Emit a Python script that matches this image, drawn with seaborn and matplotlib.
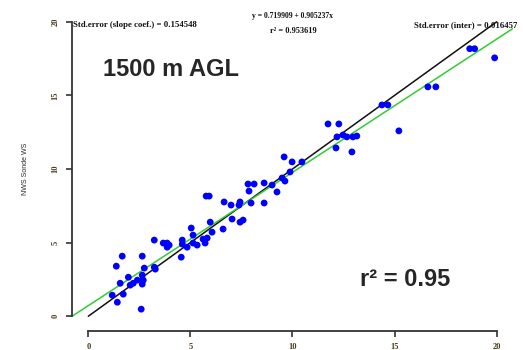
import numpy as np
import pandas as pd
import matplotlib
matplotlib.use("Agg")
import matplotlib.pyplot as plt
import seaborn as sns

obs_ws = [1.17, 1.42, 1.71, 2.59, 1.37, 1.66, 2.64, 1.56, 1.96, 2.64,
          2.40, 2.69, 2.20, 2.05, 2.64, 2.74, 3.23, 3.28, 3.23, 3.67,
          3.86, 3.96, 3.86, 4.60, 4.60, 4.84, 4.55, 5.13, 5.33, 5.72,
          5.13, 5.62, 5.82, 5.04, 6.06, 6.60, 5.97, 7.04, 7.43, 7.58,
          5.77, 5.92, 6.65, 6.99, 7.43, 7.38, 7.97, 8.61, 7.82, 8.12,
          8.61, 9.00, 7.87, 9.24, 9.49, 9.63, 9.88, 9.59, 9.98, 10.46,
          11.74, 12.27, 12.47, 12.18, 12.66, 12.96, 13.15, 12.13, 12.91, 14.38,
          14.67, 15.21, 16.63, 17.02, 18.68, 18.92, 19.90]
sonde_ws = [1.43, 0.95, 1.50, 0.48, 3.40, 4.08, 4.08, 2.24, 2.65, 2.79,
            2.45, 2.45, 2.24, 2.11, 2.18, 3.27, 3.33, 3.20, 5.17, 4.97,
            4.97, 4.83, 4.69, 5.17, 4.90, 4.69, 4.01, 4.97, 4.83, 4.97,
            5.51, 5.24, 5.31, 5.99, 5.71, 5.92, 6.39, 6.60, 6.39, 6.53,
            8.16, 8.16, 7.76, 7.55, 7.76, 7.55, 7.69, 7.69, 8.98, 8.98,
            9.05, 8.91, 8.50, 8.44, 9.39, 9.18, 9.80, 10.82, 10.48, 10.48,
            13.06, 13.06, 12.31, 12.18, 12.18, 12.18, 12.24, 11.43, 11.16, 14.35,
            14.35, 12.59, 15.58, 15.58, 18.17, 18.17, 17.55]

intercept = 0.719909
slope = 0.905237
ticks = [0, 5, 10, 15, 20]

df = pd.DataFrame({"obs": obs_ws, "sonde": sonde_ws})

sns.set_style("ticks")
fig = plt.figure(figsize=(5.23, 3.5), dpi=100)
ax = fig.add_axes([72 / 523, 22 / 350, 441 / 523, 318 / 350])

sns.scatterplot(data=df, x="obs", y="sonde", ax=ax, color="#0000ff",
                s=24, edgecolor="none", zorder=3)

# 1:1 line and fitted line
ax.plot([0, 20], [0, 20], color="#111111", lw=1.1, zorder=2)
xx = np.array([-0.8, 20.8])
ax.plot(xx, intercept + slope * xx, color="#33cc33", lw=1.1, zorder=2)

ax.set_xlim(-0.8, 20.8)
ax.set_ylim(-0.8, 20.8)

# R-style axes: only left/bottom, spanning first to last tick
sns.despine(ax=ax)
ax.spines["bottom"].set_position(("outward", 2))
for sp in ["left", "bottom"]:
    ax.spines[sp].set_bounds(0, 20)
    ax.spines[sp].set_linewidth(1.3)
    ax.spines[sp].set_color("#333333")

ax.set_xticks(ticks)
ax.set_yticks(ticks)
tick_col = "#4a3c1c"
ax.set_xticklabels([str(t) for t in ticks], fontfamily="Liberation Serif",
                   fontweight="bold", fontsize=6, color=tick_col)
ax.set_yticklabels([str(t) for t in ticks], fontfamily="Liberation Serif",
                   fontweight="bold", fontsize=6, color=tick_col,
                   rotation=90, va="center")
ax.tick_params(axis="both", length=4, width=1.2, color="#333333", pad=5)

ax.set_xlabel("")
ax.set_ylabel("NWS Sonde WS", fontfamily="Liberation Sans", fontsize=5,
              labelpad=16)

serif = dict(fontfamily="Liberation Serif", fontweight="bold", color="#111111")
fig.text(73 / 523, 1 - 25 / 350, "Std.error (slope coef.) = 0.154548",
         fontsize=6.3, ha="left", va="center", **serif)
fig.text(293 / 523, 1 - 16 / 350, "y = 0.719909 + 0.905237x",
         fontsize=5.5, ha="center", va="center", **serif)
fig.text(293 / 523, 1 - 31 / 350, "r\u00b2 = 0.953619",
         fontsize=6, ha="center", va="center", **serif)
fig.text(517 / 523, 1 - 25 / 350, "Std.error (inter) = 0.016457",
         fontsize=6.3, ha="right", va="center", **serif)

fig.text(103 / 523, 1 - 70 / 350, "1500 m AGL", fontfamily="Liberation Sans",
         fontweight="bold", fontsize=17, ha="left", va="center")
fig.text(360 / 523, 1 - 279 / 350, "r\u00b2 = 0.95", fontfamily="Liberation Sans",
         fontweight="bold", fontsize=17, ha="left", va="center")

fig.savefig("out.png", dpi=100)
